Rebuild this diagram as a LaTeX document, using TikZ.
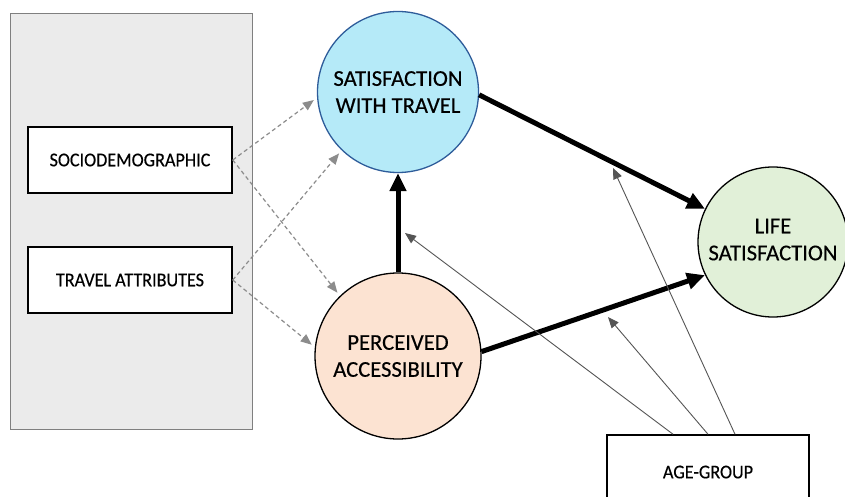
\documentclass[tikz,border=0pt]{standalone}
\usepackage{fontspec}
\setmainfont{Carlito}[FakeBold=0.35]
\newfontfamily\boxfont{Carlito}[FakeStretch=0.93,FakeBold=0.35]
\usetikzlibrary{arrows.meta,calc}
\definecolor{panelgray}{HTML}{EBEBEB}
\definecolor{panelline}{HTML}{7F7F7F}
\definecolor{swtfill}{HTML}{B5EAF8}
\definecolor{swtline}{HTML}{2E5C9A}
\definecolor{pafill}{HTML}{FCE3D2}
\definecolor{lsfill}{HTML}{E1F0D8}
\definecolor{dashgray}{HTML}{8C8C8C}
\definecolor{thingray}{HTML}{555555}
\begin{document}
\begin{tikzpicture}[x=1pt,y=-1pt,
  bigcircle/.style={circle,draw=black,line width=1.3pt,align=center,inner sep=0pt,
    font=\fontsize{22.6}{27}\selectfont},
  smallbox/.style={rectangle,draw=black,line width=1.5pt,fill=white,minimum width=204pt,
    minimum height=66pt,font=\boxfont\fontsize{19.5}{22}\selectfont},
  strongarrow/.style={line width=5pt,-{Triangle[length=18pt,width=16pt]}},
  modarrow/.style={draw=thingray,line width=0.9pt,-{Triangle[length=11pt,width=9pt]},shorten >=0pt},
  dasharrow/.style={draw=dashgray,line width=1.2pt,dash pattern=on 4pt off 3pt,
    -{Triangle[length=11pt,width=9pt,fill=dashgray]},shorten >=4pt}
]
\useasboundingbox (0,0) rectangle (845,497);
\fill[white] (0,0) rectangle (845,497);

% left panel
\node[draw=panelline,line width=1pt,fill=panelgray,minimum width=242pt,minimum height=415pt,
  inner sep=0pt] (panel) at (131,221.5) {};
\node[smallbox] (sd) at (130,160) {SOCIODEMOGRAPHIC};
\node[smallbox] (ta) at (130,280) {TRAVEL ATTRIBUTES};

% circles
\node[bigcircle,draw=swtline,fill=swtfill,minimum size=161pt] (swt) at (398,92)
  {SATISFACTION\\WITH TRAVEL};
\node[bigcircle,fill=pafill,minimum size=166pt] (pa) at (398,356)
  {PERCEIVED\\ACCESSIBILITY};
\node[bigcircle,fill=lsfill,minimum size=150pt] (ls) at (773,242)
  {\raisebox{5pt}{LIFE}\\\raisebox{5pt}{SATISFACTION}};

% age group
\node[rectangle,draw=black,line width=1.5pt,fill=white,minimum width=202pt,minimum height=76pt,
  font=\boxfont\fontsize{19.5}{22}\selectfont] (ag) at (708,473) {\raisebox{2pt}{AGE-GROUP}};

% dashed arrows
\draw[dasharrow] (sd.east) -- (swt.184);
\draw[dasharrow] (sd.east) -- (pa.134);
\draw[dasharrow] (ta.east) -- (swt.226);
\draw[dasharrow] (ta.east) -- (pa.174);

% strong arrows
\draw[strongarrow] (pa.north) -- (swt.south);
\draw[strongarrow] (swt.-2) -- (ls.154);
\draw[strongarrow] (pa.3) -- (ls.206);

% moderation arrows
\coordinate (m1) at (613,168);
\coordinate (m2) at (608,317);
\coordinate (m3) at (405,233);
\draw[modarrow] ($(ag.north)+(27,0)$) -- (m1);
\draw[modarrow] (ag.north) -- (m2);
\draw[modarrow] ($(ag.north)+(-35,0)$) -- (m3);
\end{tikzpicture}
\end{document}
